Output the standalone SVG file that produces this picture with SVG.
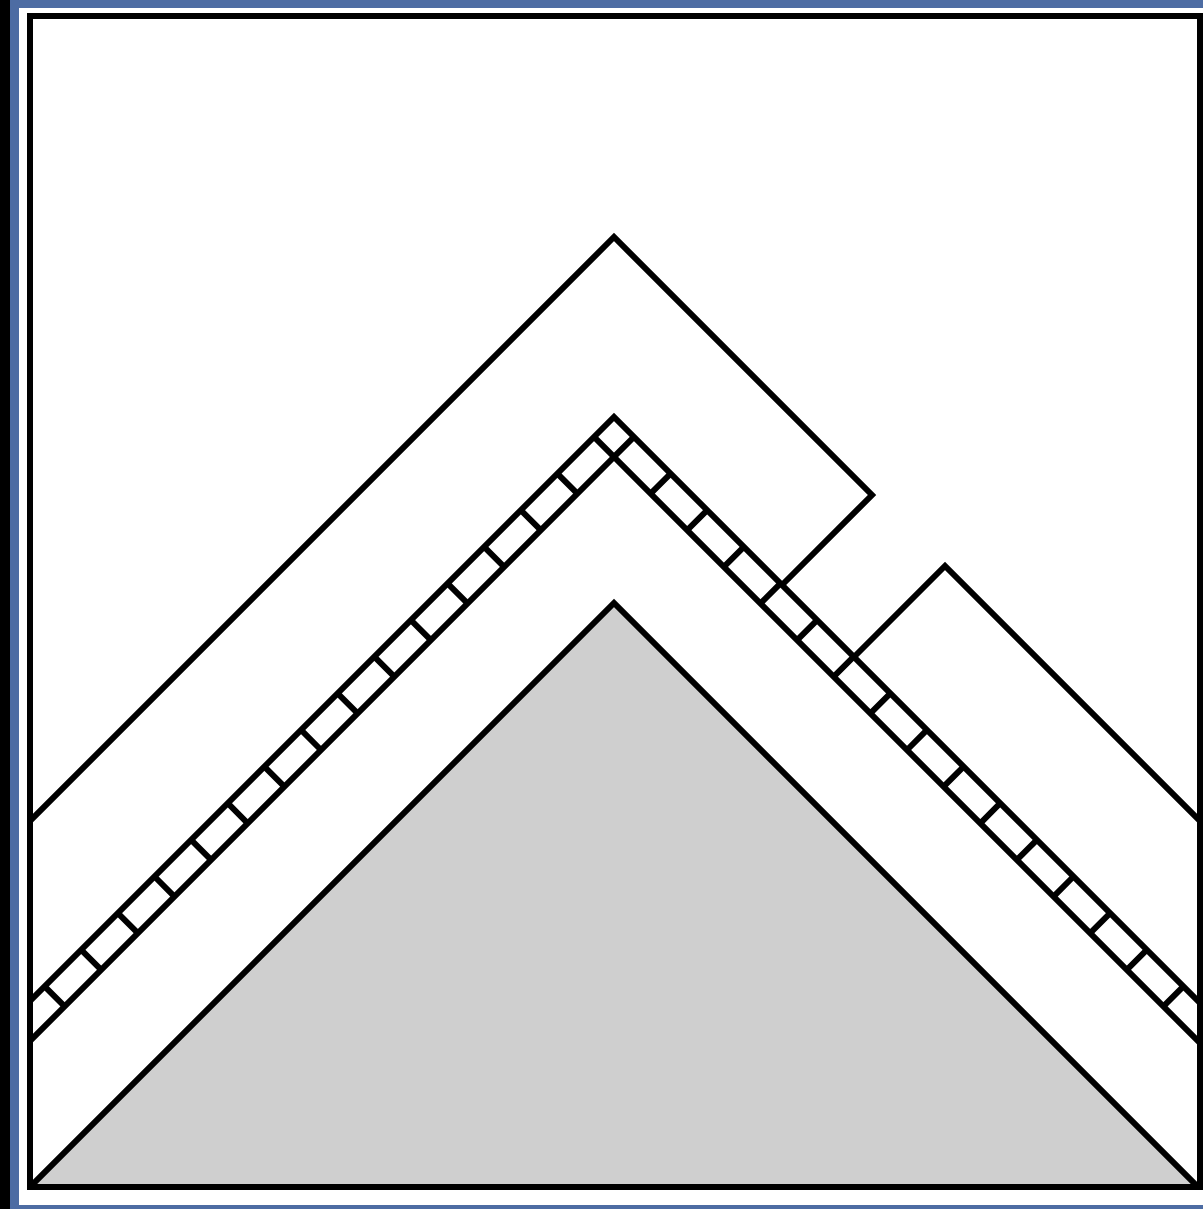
<svg xmlns="http://www.w3.org/2000/svg" width="1203" height="1209" viewBox="0 0 1203 1209">
  <defs>
    <clipPath id="inner">
      <rect x="30" y="16" width="1170" height="1171"/>
    </clipPath>
    <style>
      .ln { fill: none; stroke: #000; stroke-width: 6; stroke-linejoin: miter; stroke-linecap: butt; }
      .rung { fill: none; stroke: #000; stroke-width: 28.3; stroke-dasharray: 6 45.8; stroke-dashoffset: 40.7; }
    </style>
  </defs>
  <rect x="0" y="0" width="1203" height="1209" fill="#000"/>
  <rect x="10" y="0" width="1193" height="1209" fill="#4d6ca3"/>
  <rect x="19" y="8" width="1184" height="1197" fill="#fff"/>
  <rect x="30" y="16" width="1170" height="1171" fill="#fff"/>
  <g clip-path="url(#inner)">
    <g id="triangle">
      <polygon class="ln" points="26,1191 614,603 1204,1193" style="fill:#cfcfcf"/>
    </g>
    <g id="ladder">
      <path class="ln" d="M 20,1011 L 614,417 L 1210,1013"/>
      <path class="ln" d="M 20,1051 L 614,457 L 1210,1053"/>
      <path class="rung" d="M 614,437 L 10,1041"/>
      <path class="rung" d="M 614,437 L 1218,1041"/>
    </g>
    <g id="upper-band">
      <path class="ln" d="M 20,831 L 614,237 L 872,495 L 782,585"/>
    </g>
    <g id="right-band">
      <path class="ln" d="M 854,657 L 945,566 L 1210,831"/>
    </g>
  </g>
  <rect id="frame" x="30" y="16" width="1170" height="1171" fill="none" stroke="#000" stroke-width="6"/>
</svg>
